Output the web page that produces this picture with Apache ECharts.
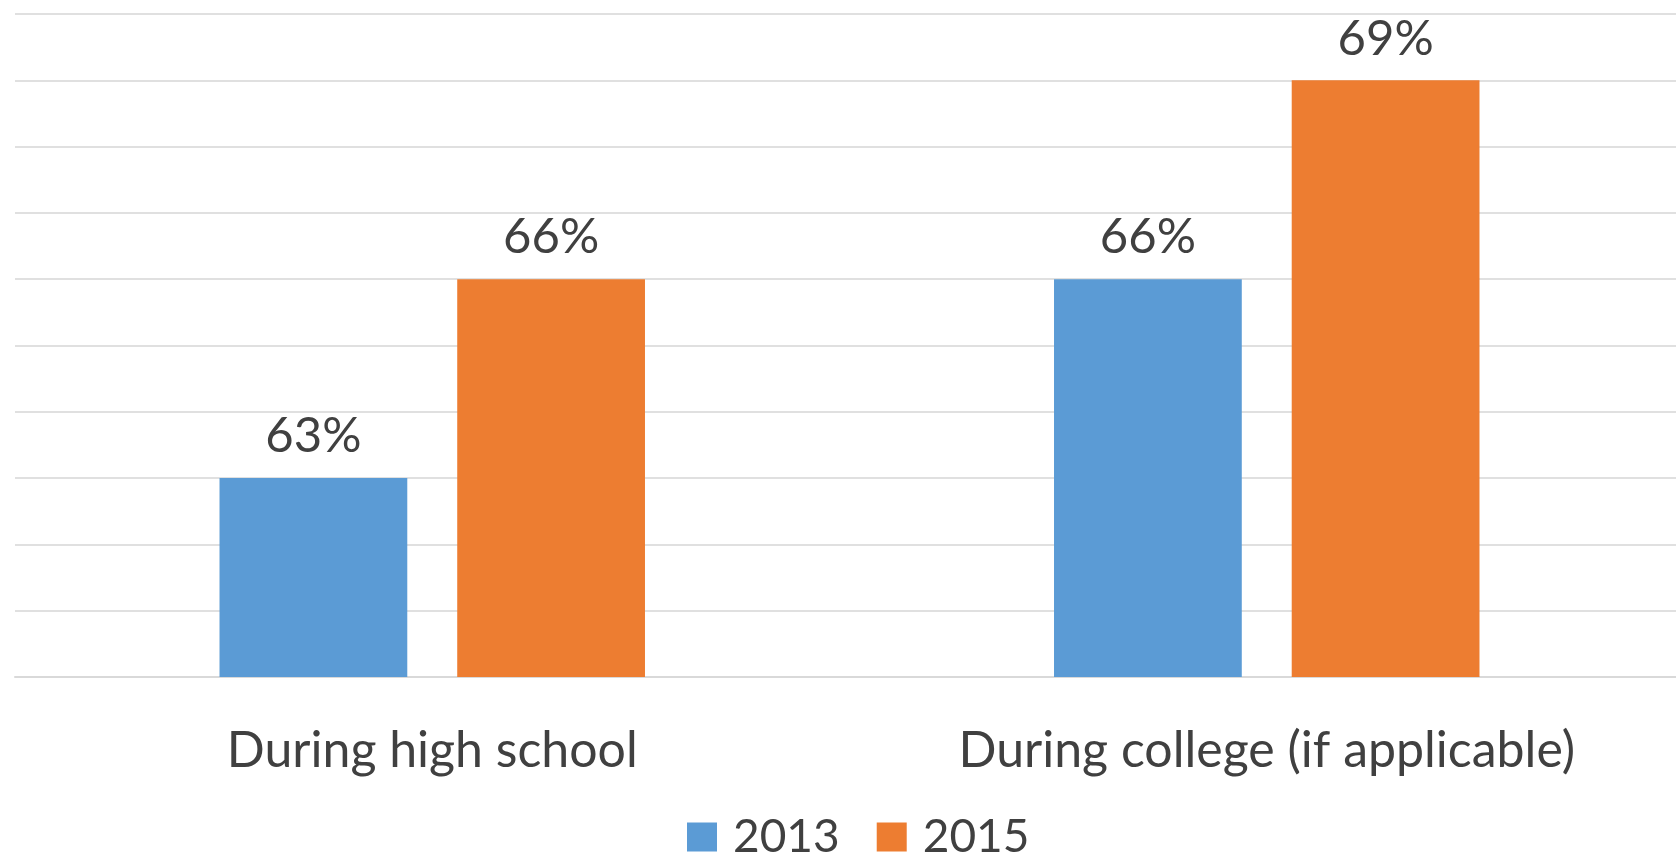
<!DOCTYPE html>
<html>
<head>
<meta charset="utf-8">
<script src="https://cdn.jsdelivr.net/npm/echarts@6/dist/echarts.min.js"></script>
<style>
  html, body { margin: 0; padding: 0; background: #ffffff; overflow: hidden; }
  /* plot area runs slightly past the right edge of the window */
  #chart { width: 1690px; height: 858px; }
</style>
</head>
<body>
<div id="chart"></div>
<script>
// Share of respondents, by period and survey year (percent)
const categories = ['During high school', 'During college (if applicable)'];
const seriesNames = ['2013', '2015'];
const values2013 = [63, 66];
const values2015 = [66, 69];
const seriesColors = ['#5B9BD5', '#ED7D31'];

const FONT = 'Lato, "Open Sans", sans-serif';
const TEXT = '#404040';

const chart = echarts.init(document.getElementById('chart'), null, { renderer: 'canvas' });

function barSeries(name, data, color) {
  return {
    name: name,
    type: 'bar',
    data: data,
    barWidth: '22.5%',
    barGap: '26.6%',
    itemStyle: { color: color },
    label: {
      show: true,
      position: 'top',
      distance: 17,
      formatter: '{c}%',
      color: TEXT,
      fontFamily: FONT,
      fontSize: 49
    }
  };
}

chart.setOption({
  animation: false,
  backgroundColor: '#ffffff',
  grid: { left: 15, top: 14, width: 1669, height: 663, containLabel: false },
  legend: {
    data: seriesNames,
    left: 687,
    top: 814,
    padding: 0,
    itemWidth: 30,
    itemHeight: 29,
    itemGap: 37,
    icon: 'rect',
    textStyle: { color: TEXT, fontFamily: FONT, fontSize: 46, padding: [0, 0, 0, 11] }
  },
  xAxis: {
    type: 'category',
    data: categories,
    axisLine: { show: true, lineStyle: { color: '#d9d9d9', width: 2 } },
    axisTick: { show: false },
    axisLabel: { color: TEXT, fontFamily: FONT, fontSize: 50, margin: 49 }
  },
  yAxis: {
    type: 'value',
    min: 60,
    max: 70,
    interval: 1,
    axisLabel: { show: false },
    axisLine: { show: false },
    axisTick: { show: false },
    splitLine: { lineStyle: { color: '#e0e0e0', width: 2 } }
  },
  series: [
    barSeries(seriesNames[0], values2013, seriesColors[0]),
    barSeries(seriesNames[1], values2015, seriesColors[1])
  ]
});
</script>
</body>
</html>
